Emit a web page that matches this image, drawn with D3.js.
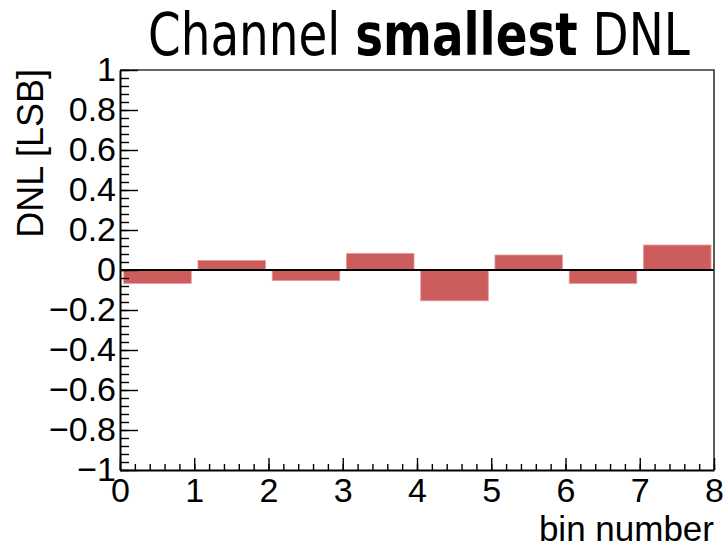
<!DOCTYPE html>
<html>
<head>
<meta charset="utf-8">
<script src="https://cdn.jsdelivr.net/npm/d3@7"></script>
<style>
  html, body { margin: 0; padding: 0; background: #fff; }
  svg { display: block; }
</style>
</head>
<body>
<svg id="chart" width="725" height="549"></svg>
<script>
// DNL per bin, in LSB
const bins = [0, 1, 2, 3, 4, 5, 6, 7];
const dnl = [-0.067, 0.048, -0.053, 0.083, -0.154, 0.075, -0.067, 0.125];
const xTicks = [0, 1, 2, 3, 4, 5, 6, 7, 8];
const yTicks = [-1, -0.8, -0.6, -0.4, -0.2, 0, 0.2, 0.4, 0.6, 0.8, 1];

const svg = d3.select("#chart");
const m = { left: 120, right: 11, top: 70, bottom: 79 };
const W = 725, H = 549;
const x = d3.scaleLinear().domain([0, 8]).range([m.left, W - m.right]);
const y = d3.scaleLinear().domain([-1, 1]).range([H - m.bottom, m.top]);

const labelFont = "Liberation Sans, Arial, sans-serif";
const fmt = v => (v < 0 ? "\u2212" : "") + String(Math.abs(v));

// bars: offset 0.05, width 0.91 of each bin
const barOff = 0.05, barW = 0.91;
svg.append("g").selectAll("rect")
  .data(bins)
  .join("rect")
  .attr("x", (b) => x(b + barOff))
  .attr("width", (b) => x(b + barOff + barW) - x(b + barOff))
  .attr("y", (b, i) => y(Math.max(0, dnl[i])))
  .attr("height", (b, i) => Math.abs(y(dnl[i]) - y(0)))
  .attr("fill", "#cd5c5c")
  .attr("stroke", "#e59a9a")
  .attr("stroke-width", 0.8);

// zero line
svg.append("line")
  .attr("x1", x(0)).attr("x2", x(8))
  .attr("y1", y(0)).attr("y2", y(0))
  .attr("stroke", "#000").attr("stroke-width", 2);

// frame (top and right)
svg.append("path")
  .attr("d", `M${x(0)},${y(1)}H${x(8)}V${y(-1)}`)
  .attr("fill", "none").attr("stroke", "#333").attr("stroke-width", 1.6);

// y axis: inward ticks
const yMinor = d3.range(-1, 1.0001, 0.04).map(v => +v.toFixed(2));
svg.append("g").attr("transform", `translate(${x(0)},0)`)
  .call(d3.axisRight(y).tickValues(yMinor).tickSize(9).tickFormat(""))
  .call(g => g.select(".domain").remove())
  .call(g => g.selectAll("line").attr("stroke", "#000").attr("stroke-width", 1.4));
svg.append("g").attr("transform", `translate(${x(0)},0)`)
  .call(d3.axisRight(y).tickValues(yTicks).tickSize(18).tickFormat(""))
  .call(g => g.select(".domain").remove())
  .call(g => g.selectAll("line").attr("stroke", "#000").attr("stroke-width", 1.4));
svg.append("g").attr("transform", `translate(${x(0)},0)`)
  .call(d3.axisLeft(y).tickValues(yTicks).tickSize(0).tickPadding(4).tickFormat(fmt))
  .call(g => g.select(".domain").attr("stroke", "#000").attr("stroke-width", 2))
  .call(g => g.selectAll("text").attr("font-family", labelFont).attr("font-size", 34).attr("fill", "#000"));

// x axis: inward ticks
const xMinor = d3.range(0, 8.0001, 0.2).map(v => +v.toFixed(1));
svg.append("g").attr("transform", `translate(0,${y(-1)})`)
  .call(d3.axisTop(x).tickValues(xMinor).tickSize(6).tickFormat(""))
  .call(g => g.select(".domain").remove())
  .call(g => g.selectAll("line").attr("stroke", "#000").attr("stroke-width", 1.4));
svg.append("g").attr("transform", `translate(0,${y(-1)})`)
  .call(d3.axisTop(x).tickValues(xTicks).tickSize(12).tickFormat(""))
  .call(g => g.select(".domain").remove())
  .call(g => g.selectAll("line").attr("stroke", "#000").attr("stroke-width", 1.4));
svg.append("g").attr("transform", `translate(0,${y(-1)})`)
  .call(d3.axisBottom(x).tickValues(xTicks).tickSize(0).tickPadding(8).tickFormat(d3.format("d")))
  .call(g => g.select(".domain").attr("stroke", "#000").attr("stroke-width", 2))
  .call(g => g.selectAll("text").attr("font-family", labelFont).attr("font-size", 34).attr("fill", "#000"));

// axis titles
svg.append("text")
  .attr("x", x(8)).attr("y", 541)
  .attr("text-anchor", "end")
  .attr("font-family", labelFont).attr("font-size", 35)
  .text("bin number");
svg.append("text")
  .attr("transform", `translate(43,${y(1) - 1}) rotate(-90)`)
  .attr("text-anchor", "end")
  .attr("font-family", labelFont).attr("font-size", 36)
  .text("DNL [LSB]");

// title, narrowed to its box
const title = svg.append("text")
  .attr("font-family", "DejaVu Sans, Verdana, sans-serif")
  .attr("font-size", 59);
title.append("tspan").text("Channel ");
title.append("tspan").attr("font-weight", "bold").text("smallest");
title.append("tspan").text(" DNL");
const bb = title.node().getBBox();
const tx0 = 148, tx1 = 690, base = 55;
const sx = (tx1 - tx0) / bb.width;
title.attr("transform", `translate(${tx0 - bb.x * sx},${base}) scale(${sx},1)`);
</script>
</body>
</html>
